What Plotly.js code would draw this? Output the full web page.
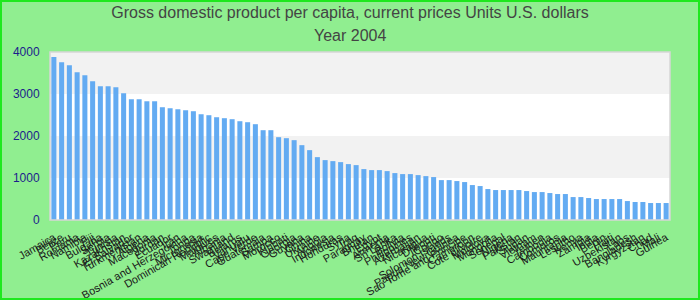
<!DOCTYPE html>
<html>
<head>
<meta charset="utf-8">
<script src="https://cdn.plot.ly/plotly-3.0.1.min.js"></script>
<style>
  html, body { margin: 0; padding: 0; background: #90ee90; }
  #wrap { position: relative; width: 700px; height: 300px; }
  #chart { width: 700px; height: 300px; }
  #frame { position: absolute; left: 0; top: 0; width: 700px; height: 300px; box-sizing: border-box;
           border: 2px solid #1ee81e; pointer-events: none; z-index: 10; }
</style>
</head>
<body>
<div id="wrap"><div id="chart"></div><div id="frame"></div></div>
<script>
const titleLine1 = "Gross domestic product per capita, current prices Units U.S. dollars";
const titleLine2 = "Year 2004";

const countries = [
  "Jamaica","Belize","Peru","Romania","Namibia","Fiji","Bulgaria","Serbia","Tunisia","Kazakhstan",
  "El Salvador","Turkmenistan","Algeria","Macedonia","Jordan","Ecuador","Iran","Bosnia and Herzegovina","Tonga","Micronesia",
  "Dominican Republic","Maldives","Albania","Swaziland","Belarus","Vanuatu","Cape Verde","Guatemala","Samoa","Morocco",
  "Kiribati","Georgia","Guyana","China","Ukraine","Angola","Indonesia","Honduras","Syria","Iraq",
  "Paraguay","Bhutan","Egypt","Armenia","Sri Lanka","Bolivia","Philippines","Azerbaijan","Nicaragua","Djibouti",
  "Congo","Solomon Islands","Papua New Guinea","Sao Tome and Principe","Cameroon","Cote d'Ivoire","Moldova","Mongolia","Senegal","Nigeria",
  "Pakistan","Sudan","Vietnam","Yemen","Cambodia","Comoros","Mauritania","Lesotho","Kenya","Zambia",
  "India","Benin","Haiti","Uzbekistan","Laos","Bangladesh","Kyrgyzstan","Chad","Mali","Guinea"
];

const gdpPerCapita = [
  3881,3754,3683,3517,3445,3303,3184,3184,3160,3018,
  2875,2875,2827,2827,2685,2661,2637,2613,2590,2518,
  2495,2447,2424,2400,2352,2328,2281,2138,2138,1972,
  1948,1901,1782,1663,1497,1426,1402,1378,1331,1307,
  1212,1188,1188,1164,1117,1093,1093,1069,1045,1022,
  950,950,927,903,832,808,737,713,713,713,
  713,689,665,665,642,618,618,546,546,523,
  499,499,499,499,451,428,428,404,404,404
];

const yTicks = [0, 1000, 2000, 3000, 4000];

const bands = [[1000, 2000], [3000, 4000]];

const shapes = bands.map(b => ({
  type: "rect", xref: "paper", yref: "y", x0: 0, x1: 1, y0: b[0], y1: b[1],
  fillcolor: "#f2f2f2", line: { width: 0 }, layer: "below"
}));
shapes.push({
  type: "rect", xref: "paper", yref: "paper", x0: 0, x1: 1, y0: 0, y1: 1,
  fillcolor: "rgba(0,0,0,0)", line: { color: "#d6d6d6", width: 1.5 }, layer: "above"
});

const data = [{
  type: "bar",
  x: countries,
  y: gdpPerCapita,
  marker: { color: "rgb(99,171,242)" },
  hoverinfo: "x+y"
}];

const titleFont = { size: 16, color: "#444444", family: "Liberation Sans, Arial, sans-serif" };

const layout = {
  width: 700, height: 300,
  paper_bgcolor: "#90ee90",
  plot_bgcolor: "#ffffff",
  margin: { l: 50, r: 30, t: 52, b: 80 },
  bargap: 0.35,
  showlegend: false,
  font: { family: "Liberation Sans, Arial, sans-serif" },
  title: {
    text: titleLine1,
    font: titleFont,
    x: 0.5, xanchor: "center", xref: "container",
    y: 1 - 12 / 300, yanchor: "middle", yref: "container"
  },
  annotations: [{
    text: titleLine2, font: titleFont, showarrow: false,
    xref: "paper", yref: "paper", x: 300 / 620, xanchor: "center",
    y: 1 + 16 / 168, yanchor: "middle"
  }],
  xaxis: {
    type: "category",
    tickmode: "array",
    tickvals: countries,
    ticktext: countries,
    tickangle: -30,
    tickfont: { size: 11, color: "#1a1a1a" },
    showgrid: false, zeroline: false, showline: false,
    ticks: "outside", ticklen: 6, tickcolor: "rgba(0,0,0,0)",
    automargin: false
  },
  yaxis: {
    range: [0, 4000],
    tickmode: "array",
    tickvals: yTicks,
    ticktext: yTicks.map(String),
    tickfont: { size: 12, color: "#1c1c8c" },
    showgrid: false, zeroline: false, showline: false,
    ticks: "outside", ticklen: 7, tickcolor: "rgba(0,0,0,0)",
    automargin: false
  },
  shapes: shapes
};

Plotly.newPlot("chart", data, layout, { displayModeBar: false, staticPlot: true });
</script>
</body>
</html>
